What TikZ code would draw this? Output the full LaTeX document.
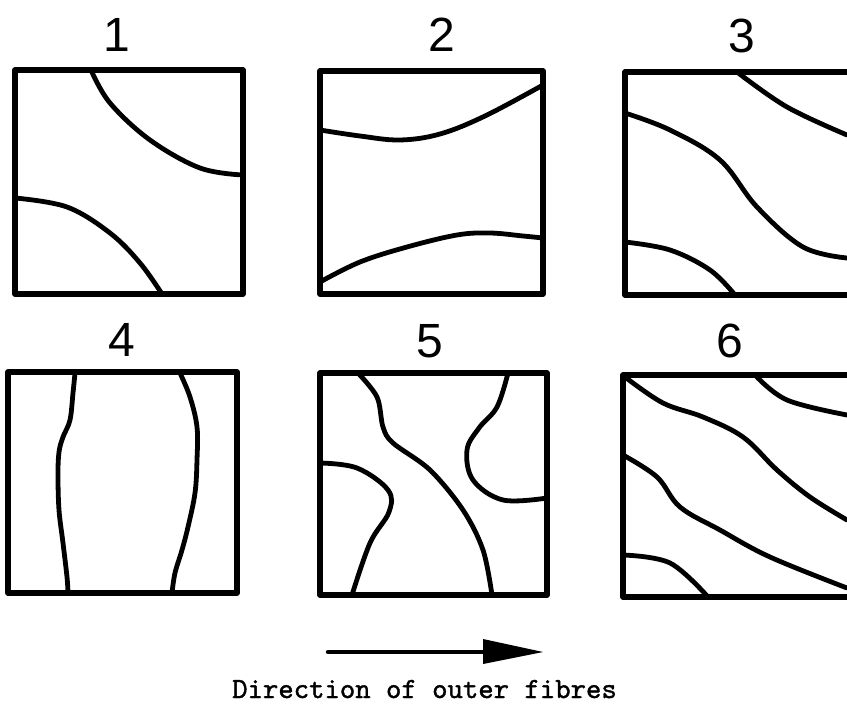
\documentclass[tikz,border=0pt]{standalone}
\usepackage{fontspec}
\newfontfamily\digitfont{Liberation Sans}
\newfontfamily\capfont{lmmono10-regular.otf}[FakeBold=1.2]
\begin{document}
\begin{tikzpicture}[x=1pt,y=-1pt,
  boxline/.style={line width=5.5pt,line cap=round,line join=round},
  fibre/.style={line width=4.8pt,line cap=round},
  numlabel/.style={font=\digitfont\fontsize{48}{48}\selectfont,inner sep=0pt},
  arrowline/.style={line width=4.5pt,line cap=round}]
\useasboundingbox (0,0) rectangle (847,706);
\clip (0,0) rectangle (847,706);
% labels
\node[numlabel] (n1) at (117,35) {1};
\node[numlabel] (n2) at (442,35) {2};
\node[numlabel] (n3) at (742,36) {3};
\node[numlabel] (n4) at (122,340) {4};
\node[numlabel] (n5) at (430,341) {5};
\node[numlabel] (n6) at (730,341) {6};
% box 1
\draw[boxline] (15,70) rectangle (243,294);
\draw[fibre] plot[smooth,tension=0.6] coordinates {(91,70) (110,103) (150,140) (200,168) (243,175)};
\draw[fibre] plot[smooth,tension=0.6] coordinates {(15,198) (67,207) (110,233) (140,263) (162,294)};
% box 2
\draw[boxline] (320,71) rectangle (543,294);
\draw[fibre] plot[smooth,tension=0.6] coordinates {(320,130) (360,136) (400,140) (440,134) (485,116) (543,85)};
\draw[fibre] plot[smooth,tension=0.6] coordinates {(320,282) (360,262) (407,247) (457,235) (490,233) (523,236) (543,238)};
% box 3
\draw[boxline] (625,72) rectangle (851,295);
\draw[fibre] plot[smooth,tension=0.6] coordinates {(737,72) (787,107) (847,135)};
\draw[fibre] plot[smooth,tension=0.6] coordinates {(625,113) (670,130) (720,160) (757,207) (803,247) (847,258)};
\draw[fibre] plot[smooth,tension=0.6] coordinates {(625,242) (670,250) (710,270) (735,295)};
% box 4
\draw[boxline] (8,372) rectangle (237,593);
\draw[fibre] plot[smooth,tension=0.6] coordinates {(75,373) (73,393) (70,420) (63,437) (59,452) (58,475) (59,510) (63,543) (67,577) (68,593)};
\draw[fibre] plot[smooth,tension=0.6] coordinates {(180,373) (190,397) (197,427) (197,460) (195,493) (188,527) (182,550) (175,573) (172,593)};
% box 5
\draw[boxline] (320,373) rectangle (547,595);
\draw[fibre] plot[smooth,tension=0.55] coordinates {(358,373) (377,397) (383,427) (393,443) (430,470) (463,510) (483,550) (492,595)};
\draw[fibre] plot[smooth,tension=0.6] coordinates {(320,463) (357,468) (388,490) (389,512) (370,543) (352,595)};
\draw[fibre] plot[smooth,tension=0.6] coordinates {(508,373) (497,407) (479,428) (467,450) (473,480) (503,500) (547,498)};
% box 6
\draw[boxline] (623,375) rectangle (851,597);
\draw[fibre] plot[smooth,tension=0.6] coordinates {(625,377) (663,403) (703,417) (743,437) (777,470) (810,497) (847,520)};
\draw[fibre] plot[smooth,tension=0.6] coordinates {(755,375) (787,400) (847,415)};
\draw[fibre] plot[smooth,tension=0.6] coordinates {(623,455) (657,477) (680,507) (720,530) (770,557) (847,588)};
\draw[fibre] plot[smooth,tension=0.6] coordinates {(623,555) (670,563) (708,597)};
% direction arrow
\coordinate (a0) at (328,652);
\coordinate (a1) at (485,652);
\draw[arrowline] (a0) -- (a1);
\fill (483,639) -- (543,652) -- (483,664) -- cycle;
\node[font=\capfont\fontsize{29.3}{30}\selectfont,inner sep=0pt,anchor=base] (cap) at (424.5,698) {Direction of outer fibres};
\end{tikzpicture}
\end{document}
